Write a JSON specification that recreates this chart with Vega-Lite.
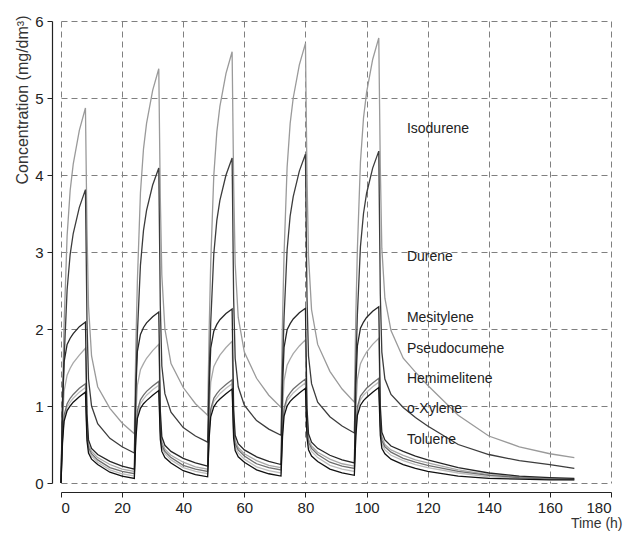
{
  "$schema": "https://vega.github.io/schema/vega-lite/v6.json",
  "width": 550,
  "height": 462,
  "autosize": {"type": "none"},
  "padding": {"left": 61, "top": 21, "right": 14, "bottom": 55},
  "background": "white",
  "config": {
    "view": {"stroke": null},
    "axis": {
      "labelFont": "Liberation Sans",
      "labelFontSize": 15,
      "labelColor": "#222",
      "domainColor": "#222",
      "domainWidth": 1.2,
      "tickColor": "#222",
      "tickSize": 5,
      "labelPadding": 3,
      "gridColor": "#808080",
      "gridDash": [6, 4],
      "gridWidth": 1,
      "titleFontWeight": "normal",
      "titleColor": "#333"
    }
  },
  "layer": [
    {
      "data": {
        "values": [
          {"t": 0, "Iso": 0, "Dur": 0, "Mes": 0, "Pse": 0, "Hem": 0, "oXy": 0, "Tol": 0},
          {"t": 0.5, "Iso": 1.17, "Dur": 0.91, "Mes": 1.05, "Pse": 0.79, "Hem": 0.58, "oXy": 0.56, "Tol": 0.53},
          {"t": 1, "Iso": 2.05, "Dur": 1.60, "Mes": 1.57, "Pse": 1.19, "Hem": 0.88, "oXy": 0.84, "Tol": 0.80},
          {"t": 2, "Iso": 3.21, "Dur": 2.51, "Mes": 1.80, "Pse": 1.40, "Hem": 1.03, "oXy": 0.99, "Tol": 0.94},
          {"t": 3, "Iso": 3.80, "Dur": 2.97, "Mes": 1.88, "Pse": 1.49, "Hem": 1.10, "oXy": 1.05, "Tol": 1.00},
          {"t": 4, "Iso": 4.14, "Dur": 3.24, "Mes": 1.94, "Pse": 1.56, "Hem": 1.15, "oXy": 1.10, "Tol": 1.05},
          {"t": 6, "Iso": 4.58, "Dur": 3.58, "Mes": 2.03, "Pse": 1.66, "Hem": 1.23, "oXy": 1.18, "Tol": 1.12},
          {"t": 8, "Iso": 4.87, "Dur": 3.81, "Mes": 2.09, "Pse": 1.75, "Hem": 1.29, "oXy": 1.24, "Tol": 1.18},
          {"t": 8.5, "Iso": 3.3, "Dur": 2.1, "Mes": 0.9, "Pse": 0.8, "Hem": 0.65, "oXy": 0.6, "Tol": 0.55},
          {"t": 9, "Iso": 2.3, "Dur": 1.35, "Mes": 0.56, "Pse": 0.5, "Hem": 0.46, "oXy": 0.43, "Tol": 0.39},
          {"t": 10, "Iso": 1.65, "Dur": 1.0, "Mes": 0.45, "Pse": 0.41, "Hem": 0.38, "oXy": 0.35, "Tol": 0.31},
          {"t": 12, "Iso": 1.25, "Dur": 0.77, "Mes": 0.37, "Pse": 0.33, "Hem": 0.30, "oXy": 0.27, "Tol": 0.24},
          {"t": 16, "Iso": 0.97, "Dur": 0.58, "Mes": 0.28, "Pse": 0.24, "Hem": 0.20, "oXy": 0.17, "Tol": 0.14},
          {"t": 20, "Iso": 0.78, "Dur": 0.47, "Mes": 0.22, "Pse": 0.18, "Hem": 0.15, "oXy": 0.12, "Tol": 0.09},
          {"t": 24, "Iso": 0.64, "Dur": 0.39, "Mes": 0.18, "Pse": 0.15, "Hem": 0.12, "oXy": 0.09, "Tol": 0.06},
          {"t": 24.5, "Iso": 1.78, "Dur": 1.28, "Mes": 1.20, "Pse": 0.89, "Hem": 0.66, "oXy": 0.62, "Tol": 0.57},
          {"t": 25, "Iso": 2.63, "Dur": 1.94, "Mes": 1.71, "Pse": 1.27, "Hem": 0.94, "oXy": 0.89, "Tol": 0.84},
          {"t": 26, "Iso": 3.77, "Dur": 2.83, "Mes": 1.93, "Pse": 1.47, "Hem": 1.08, "oXy": 1.03, "Tol": 0.97},
          {"t": 27, "Iso": 4.34, "Dur": 3.28, "Mes": 2.02, "Pse": 1.55, "Hem": 1.14, "oXy": 1.09, "Tol": 1.03},
          {"t": 28, "Iso": 4.67, "Dur": 3.54, "Mes": 2.08, "Pse": 1.62, "Hem": 1.19, "oXy": 1.14, "Tol": 1.07},
          {"t": 30, "Iso": 5.10, "Dur": 3.87, "Mes": 2.16, "Pse": 1.72, "Hem": 1.26, "oXy": 1.21, "Tol": 1.14},
          {"t": 32, "Iso": 5.38, "Dur": 4.09, "Mes": 2.22, "Pse": 1.80, "Hem": 1.32, "oXy": 1.27, "Tol": 1.20},
          {"t": 32.5, "Iso": 3.7, "Dur": 2.3, "Mes": 0.94, "Pse": 0.83, "Hem": 0.68, "oXy": 0.63, "Tol": 0.57},
          {"t": 33, "Iso": 2.7, "Dur": 1.52, "Mes": 0.60, "Pse": 0.53, "Hem": 0.49, "oXy": 0.46, "Tol": 0.41},
          {"t": 34, "Iso": 2.0, "Dur": 1.16, "Mes": 0.49, "Pse": 0.44, "Hem": 0.41, "oXy": 0.38, "Tol": 0.33},
          {"t": 36, "Iso": 1.55, "Dur": 0.92, "Mes": 0.41, "Pse": 0.36, "Hem": 0.33, "oXy": 0.30, "Tol": 0.26},
          {"t": 40, "Iso": 1.24, "Dur": 0.72, "Mes": 0.32, "Pse": 0.27, "Hem": 0.23, "oXy": 0.20, "Tol": 0.16},
          {"t": 44, "Iso": 1.03, "Dur": 0.61, "Mes": 0.26, "Pse": 0.21, "Hem": 0.18, "oXy": 0.15, "Tol": 0.11},
          {"t": 48, "Iso": 0.88, "Dur": 0.53, "Mes": 0.22, "Pse": 0.18, "Hem": 0.15, "oXy": 0.12, "Tol": 0.08},
          {"t": 48.5, "Iso": 2.01, "Dur": 1.42, "Mes": 1.24, "Pse": 0.93, "Hem": 0.69, "oXy": 0.65, "Tol": 0.59},
          {"t": 49, "Iso": 2.86, "Dur": 2.08, "Mes": 1.75, "Pse": 1.31, "Hem": 0.96, "oXy": 0.92, "Tol": 0.86},
          {"t": 50, "Iso": 3.99, "Dur": 2.97, "Mes": 1.97, "Pse": 1.51, "Hem": 1.10, "oXy": 1.06, "Tol": 0.99},
          {"t": 51, "Iso": 4.56, "Dur": 3.41, "Mes": 2.06, "Pse": 1.59, "Hem": 1.16, "oXy": 1.11, "Tol": 1.05},
          {"t": 52, "Iso": 4.89, "Dur": 3.67, "Mes": 2.12, "Pse": 1.66, "Hem": 1.21, "oXy": 1.16, "Tol": 1.09},
          {"t": 54, "Iso": 5.32, "Dur": 4.00, "Mes": 2.20, "Pse": 1.76, "Hem": 1.28, "oXy": 1.23, "Tol": 1.16},
          {"t": 56, "Iso": 5.60, "Dur": 4.22, "Mes": 2.26, "Pse": 1.84, "Hem": 1.34, "oXy": 1.29, "Tol": 1.22},
          {"t": 56.5, "Iso": 3.9, "Dur": 2.4, "Mes": 0.96, "Pse": 0.85, "Hem": 0.70, "oXy": 0.64, "Tol": 0.58},
          {"t": 57, "Iso": 2.85, "Dur": 1.62, "Mes": 0.62, "Pse": 0.55, "Hem": 0.51, "oXy": 0.47, "Tol": 0.42},
          {"t": 58, "Iso": 2.15, "Dur": 1.25, "Mes": 0.51, "Pse": 0.46, "Hem": 0.43, "oXy": 0.39, "Tol": 0.34},
          {"t": 60, "Iso": 1.7, "Dur": 1.01, "Mes": 0.43, "Pse": 0.38, "Hem": 0.35, "oXy": 0.31, "Tol": 0.27},
          {"t": 64, "Iso": 1.36, "Dur": 0.81, "Mes": 0.34, "Pse": 0.29, "Hem": 0.25, "oXy": 0.21, "Tol": 0.17},
          {"t": 68, "Iso": 1.14, "Dur": 0.70, "Mes": 0.28, "Pse": 0.23, "Hem": 0.20, "oXy": 0.16, "Tol": 0.12},
          {"t": 72, "Iso": 0.98, "Dur": 0.62, "Mes": 0.24, "Pse": 0.20, "Hem": 0.17, "oXy": 0.13, "Tol": 0.09},
          {"t": 72.5, "Iso": 2.12, "Dur": 1.50, "Mes": 1.26, "Pse": 0.95, "Hem": 0.70, "oXy": 0.66, "Tol": 0.60},
          {"t": 73, "Iso": 2.97, "Dur": 2.15, "Mes": 1.76, "Pse": 1.33, "Hem": 0.97, "oXy": 0.93, "Tol": 0.87},
          {"t": 74, "Iso": 4.10, "Dur": 3.03, "Mes": 1.99, "Pse": 1.53, "Hem": 1.11, "oXy": 1.07, "Tol": 1.00},
          {"t": 75, "Iso": 4.67, "Dur": 3.47, "Mes": 2.07, "Pse": 1.61, "Hem": 1.17, "oXy": 1.12, "Tol": 1.06},
          {"t": 76, "Iso": 5.00, "Dur": 3.72, "Mes": 2.13, "Pse": 1.68, "Hem": 1.22, "oXy": 1.17, "Tol": 1.10},
          {"t": 78, "Iso": 5.43, "Dur": 4.05, "Mes": 2.21, "Pse": 1.78, "Hem": 1.29, "oXy": 1.24, "Tol": 1.17},
          {"t": 80, "Iso": 5.71, "Dur": 4.27, "Mes": 2.27, "Pse": 1.86, "Hem": 1.35, "oXy": 1.30, "Tol": 1.23},
          {"t": 80.5, "Iso": 4.0, "Dur": 2.42, "Mes": 0.98, "Pse": 0.87, "Hem": 0.72, "oXy": 0.66, "Tol": 0.59},
          {"t": 81, "Iso": 2.95, "Dur": 1.65, "Mes": 0.64, "Pse": 0.57, "Hem": 0.53, "oXy": 0.49, "Tol": 0.43},
          {"t": 82, "Iso": 2.25, "Dur": 1.29, "Mes": 0.53, "Pse": 0.48, "Hem": 0.45, "oXy": 0.41, "Tol": 0.35},
          {"t": 84, "Iso": 1.8, "Dur": 1.05, "Mes": 0.45, "Pse": 0.40, "Hem": 0.37, "oXy": 0.33, "Tol": 0.28},
          {"t": 88, "Iso": 1.45, "Dur": 0.86, "Mes": 0.36, "Pse": 0.31, "Hem": 0.27, "oXy": 0.23, "Tol": 0.18},
          {"t": 92, "Iso": 1.22, "Dur": 0.74, "Mes": 0.30, "Pse": 0.25, "Hem": 0.22, "oXy": 0.18, "Tol": 0.13},
          {"t": 96, "Iso": 1.05, "Dur": 0.65, "Mes": 0.26, "Pse": 0.22, "Hem": 0.19, "oXy": 0.15, "Tol": 0.10},
          {"t": 96.5, "Iso": 2.19, "Dur": 1.53, "Mes": 1.28, "Pse": 0.97, "Hem": 0.72, "oXy": 0.67, "Tol": 0.61},
          {"t": 97, "Iso": 3.04, "Dur": 2.19, "Mes": 1.78, "Pse": 1.35, "Hem": 0.99, "oXy": 0.94, "Tol": 0.88},
          {"t": 98, "Iso": 4.17, "Dur": 3.07, "Mes": 2.01, "Pse": 1.55, "Hem": 1.13, "oXy": 1.08, "Tol": 1.01},
          {"t": 99, "Iso": 4.74, "Dur": 3.50, "Mes": 2.09, "Pse": 1.63, "Hem": 1.18, "oXy": 1.14, "Tol": 1.07},
          {"t": 100, "Iso": 5.07, "Dur": 3.76, "Mes": 2.15, "Pse": 1.70, "Hem": 1.23, "oXy": 1.18, "Tol": 1.11},
          {"t": 102, "Iso": 5.50, "Dur": 4.09, "Mes": 2.23, "Pse": 1.80, "Hem": 1.30, "oXy": 1.25, "Tol": 1.18},
          {"t": 104, "Iso": 5.78, "Dur": 4.31, "Mes": 2.29, "Pse": 1.88, "Hem": 1.36, "oXy": 1.31, "Tol": 1.24},
          {"t": 104.5, "Iso": 4.1, "Dur": 2.45, "Mes": 1.0, "Pse": 0.9, "Hem": 0.75, "oXy": 0.7, "Tol": 0.62},
          {"t": 105, "Iso": 3.05, "Dur": 1.7, "Mes": 0.66, "Pse": 0.6, "Hem": 0.55, "oXy": 0.51, "Tol": 0.45},
          {"t": 106, "Iso": 2.4, "Dur": 1.35, "Mes": 0.56, "Pse": 0.5, "Hem": 0.47, "oXy": 0.43, "Tol": 0.38},
          {"t": 108, "Iso": 1.98, "Dur": 1.15, "Mes": 0.48, "Pse": 0.43, "Hem": 0.40, "oXy": 0.36, "Tol": 0.31},
          {"t": 112, "Iso": 1.62, "Dur": 0.98, "Mes": 0.41, "Pse": 0.36, "Hem": 0.32, "oXy": 0.29, "Tol": 0.24},
          {"t": 116, "Iso": 1.44, "Dur": 0.85, "Mes": 0.35, "Pse": 0.30, "Hem": 0.27, "oXy": 0.24, "Tol": 0.19},
          {"t": 120, "Iso": 1.27, "Dur": 0.74, "Mes": 0.30, "Pse": 0.26, "Hem": 0.23, "oXy": 0.20, "Tol": 0.15},
          {"t": 130, "Iso": 0.88, "Dur": 0.50, "Mes": 0.20, "Pse": 0.17, "Hem": 0.15, "oXy": 0.13, "Tol": 0.09},
          {"t": 140, "Iso": 0.61, "Dur": 0.37, "Mes": 0.13, "Pse": 0.11, "Hem": 0.10, "oXy": 0.08, "Tol": 0.06},
          {"t": 150, "Iso": 0.47, "Dur": 0.29, "Mes": 0.09, "Pse": 0.08, "Hem": 0.07, "oXy": 0.06, "Tol": 0.05},
          {"t": 160, "Iso": 0.38, "Dur": 0.24, "Mes": 0.07, "Pse": 0.06, "Hem": 0.05, "oXy": 0.05, "Tol": 0.04},
          {"t": 168, "Iso": 0.33, "Dur": 0.19, "Mes": 0.06, "Pse": 0.05, "Hem": 0.05, "oXy": 0.04, "Tol": 0.04}
        ]
      },
      "transform": [
        {"fold": ["oXy", "Pse", "Iso", "Hem", "Dur", "Mes", "Tol"], "as": ["series", "c"]}
      ],
      "mark": {"type": "line", "strokeWidth": 1.3},
      "encoding": {
        "x": {
          "field": "t",
          "type": "quantitative",
          "scale": {"domain": [0, 180], "nice": false},
          "axis": {
            "values": [0, 20, 40, 60, 80, 100, 120, 140, 160, 180],
            "format": "d",
            "grid": true,
            "offset": 9,
            "title": "Time (h)",
            "titleFont": "Liberation Sans",
            "titleFontSize": 14,
            "titleAlign": "right",
            "titleAnchor": "end",
            "titleBaseline": "alphabetic",
            "titleX": 561,
            "titleY": 35
          }
        },
        "y": {
          "field": "c",
          "type": "quantitative",
          "scale": {"domain": [0, 6], "nice": false},
          "axis": {
            "values": [0, 1, 2, 3, 4, 5, 6],
            "format": "d",
            "grid": true,
            "offset": 9,
            "labelPadding": 4,
            "title": "Concentration (mg/dm³)",
            "titleFont": "Liberation Sans",
            "titleFontSize": 16,
            "titleAngle": -90,
            "titleAlign": "right",
            "titleBaseline": "alphabetic",
            "titleX": -25,
            "titleY": -6
          }
        },
        "color": {
          "field": "series",
          "type": "nominal",
          "scale": {
            "domain": ["Iso", "Dur", "Mes", "Pse", "Hem", "oXy", "Tol"],
            "range": ["#9a9a9a", "#3c3c3c", "#262626", "#a8a8a8", "#6e6e6e", "#bdbdbd", "#111111"]
          },
          "legend": null
        }
      }
    },
    {
      "data": {
        "values": [
          {"label": "Isodurene", "t": 113.2, "c": 4.6},
          {"label": "Durene", "t": 113.2, "c": 2.94},
          {"label": "Mesitylene", "t": 113.2, "c": 2.14},
          {"label": "Pseudocumene", "t": 113.2, "c": 1.74},
          {"label": "Hemimelitene", "t": 113.2, "c": 1.35},
          {"label": "o-Xylene", "t": 113.2, "c": 0.96},
          {"label": "Toluene", "t": 113.2, "c": 0.56}
        ]
      },
      "mark": {"type": "text", "align": "left", "baseline": "middle", "font": "Liberation Sans", "fontSize": 14, "color": "#222"},
      "encoding": {
        "x": {"field": "t", "type": "quantitative"},
        "y": {"field": "c", "type": "quantitative"},
        "text": {"field": "label"}
      }
    }
  ]
}
